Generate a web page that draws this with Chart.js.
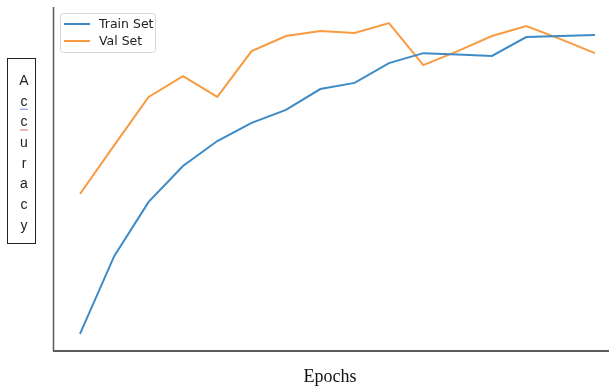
<!DOCTYPE html>
<html>
<head>
<meta charset="utf-8">
<script src="https://cdn.jsdelivr.net/npm/chart.js@4/dist/chart.umd.min.js"></script>
<style>
html,body{margin:0;padding:0;background:#fff;}
#wrap{position:relative;width:609px;height:387px;}
canvas{display:block;}
</style>
</head>
<body>
<div id="wrap"><canvas id="c" width="609" height="387"></canvas></div>
<script>
// ---- data (no tick labels in the original) ----
const epochs = [1,2,3,4,5,6,7,8,9,10,11,12,13,14,15,16];
const trainAcc = [0.047,0.275,0.433,0.538,0.611,0.664,0.702,0.763,0.781,0.839,0.868,0.864,0.860,0.915,0.918,0.921];
const valAcc   = [0.456,0.599,0.740,0.801,0.740,0.874,0.918,0.933,0.927,0.956,0.833,0.874,0.918,0.947,0.909,0.868];
const seriesNames = ['Train Set','Val Set'];
const xTitle = 'Epochs';
const yTitle = 'Accuracy';

const BLUE = '#3e8ac4';
const ORANGE = '#f89a40';

const decor = {
  id:'decor',
  afterDraw(chart){
    const ctx = chart.ctx, a = chart.chartArea;
    ctx.save();
    // spines
    ctx.strokeStyle = '#5a5a5a';
    ctx.lineWidth = 1.5;
    ctx.beginPath(); ctx.moveTo(a.left+0.5, a.top-1); ctx.lineTo(a.left+0.5, a.bottom+1); ctx.stroke();
    ctx.lineWidth = 2;
    ctx.beginPath(); ctx.moveTo(a.left, a.bottom+1); ctx.lineTo(chart.width, a.bottom+1); ctx.stroke();

    // legend (matplotlib style)
    const lx = 60, ly = 13, lw = 95, lh = 39;
    ctx.fillStyle = 'rgba(255,255,255,0.9)';
    ctx.strokeStyle = '#d6d6d6';
    ctx.lineWidth = 1;
    ctx.beginPath();
    ctx.roundRect(lx+0.5, ly+0.5, lw, lh, 3);
    ctx.fill(); ctx.stroke();
    ctx.font = '12.5px "DejaVu Sans", sans-serif';
    ctx.textBaseline = 'middle';
    chart.data.datasets.forEach((ds,i)=>{
      const y = ly + 11 + i*17;
      ctx.strokeStyle = ds.borderColor; ctx.lineWidth = 2;
      ctx.beginPath(); ctx.moveTo(lx+4, y); ctx.lineTo(lx+30, y); ctx.stroke();
      ctx.fillStyle = '#222';
      ctx.fillText(ds.label, lx+39, y+1);
    });

    // y-title box with stacked letters
    ctx.strokeStyle = '#222'; ctx.lineWidth = 1;
    ctx.strokeRect(7.5, 58.5, 28, 185);
    ctx.font = '14px "Liberation Sans", sans-serif';
    ctx.textAlign = 'center'; ctx.textBaseline = 'middle';
    ctx.fillStyle = '#222';
    const letters = yTitle.split('');
    letters.forEach((ch,i)=>{
      ctx.fillText(ch, 24, 81 + i*20.7);
    });
    // spell-check squiggles under the two c's
    [[1,'#5b6fd8'],[2,'#e05050']].forEach(([i,col])=>{
      const y = 81 + i*20.7 + 7;
      ctx.strokeStyle = col; ctx.lineWidth = 1;
      ctx.beginPath();
      for(let x=20;x<=28;x+=1){ const yy = y + ((x%2)?1:0); if(x===20) ctx.moveTo(x,yy); else ctx.lineTo(x,yy);}
      ctx.stroke();
    });

    // x title
    ctx.font = '18px "Liberation Serif", serif';
    ctx.fillStyle = '#111';
    ctx.textBaseline = 'middle';
    ctx.fillText(xTitle, 330, 377);
    ctx.restore();
  }
};

new Chart(document.getElementById('c'), {
  type:'line',
  data:{
    datasets:[
      {label:seriesNames[0], data:epochs.map((e,i)=>({x:e,y:trainAcc[i]})), borderColor:BLUE, borderWidth:2, pointRadius:0, tension:0, fill:false},
      {label:seriesNames[1], data:epochs.map((e,i)=>({x:e,y:valAcc[i]})), borderColor:ORANGE, borderWidth:2, pointRadius:0, tension:0, fill:false}
    ]
  },
  options:{
    responsive:false,
    animation:false,
    devicePixelRatio:1,
    layout:{padding:{left:53,right:0,top:8,bottom:37}},
    plugins:{legend:{display:false},tooltip:{enabled:false}},
    scales:{
      x:{type:'linear',display:false,min:0.214,max:16.41},
      y:{type:'linear',display:false,min:0,max:1}
    }
  },
  plugins:[decor]
});
</script>
</body>
</html>
